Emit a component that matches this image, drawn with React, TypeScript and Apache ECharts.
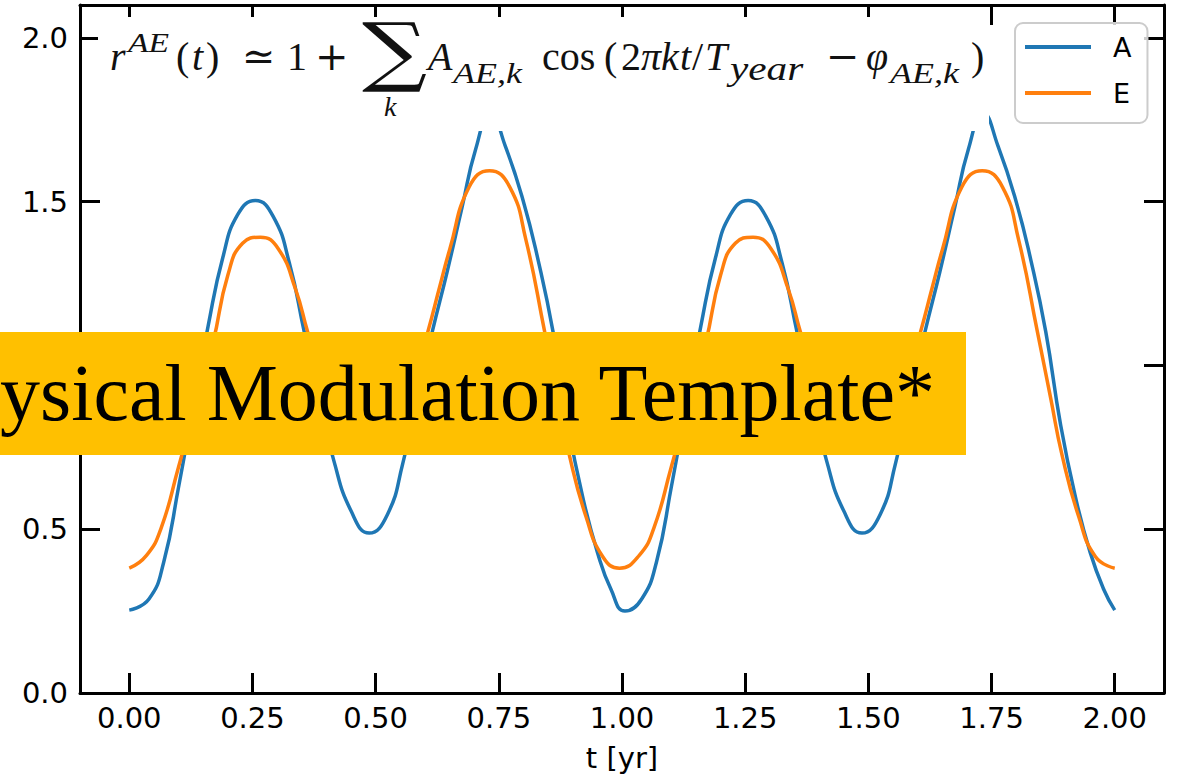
import React, { useEffect, useRef } from "react";
import * as echarts from "echarts";

// channel A (blue): sample times [yr] and values
const tA = [
  0, 0.04, 0.07, 0.1, 0.13, 0.16, 0.19, 0.22, 0.256, 0.292,
  0.325, 0.355, 0.385, 0.415, 0.45, 0.487, 0.524, 0.555, 0.585, 0.615,
  0.645, 0.675, 0.703, 0.733, 0.763, 0.799, 0.83, 0.86, 0.89, 0.92,
  0.95, 0.978,
  1.006, 1.04, 1.07, 1.1, 1.13, 1.16, 1.19, 1.22, 1.256, 1.292,
  1.325, 1.355, 1.385, 1.415, 1.45, 1.487, 1.524, 1.555, 1.585, 1.615,
  1.645, 1.675, 1.703, 1.733, 1.763, 1.799, 1.83, 1.86, 1.89, 1.92,
  1.95, 1.978, 2.0,
];
const seriesA = [
  0.253, 0.287, 0.4, 0.628, 0.875, 1.12, 1.33, 1.46, 1.503, 1.455,
  1.312, 1.103, 0.899, 0.71, 0.556, 0.488, 0.545, 0.7, 0.905, 1.103,
  1.285, 1.48, 1.66, 1.77, 1.67, 1.505, 1.32, 1.103, 0.82, 0.6,
  0.43, 0.315,
  0.25, 0.287, 0.4, 0.628, 0.875, 1.12, 1.33, 1.46, 1.503, 1.455,
  1.312, 1.103, 0.899, 0.71, 0.556, 0.488, 0.545, 0.7, 0.905, 1.103,
  1.285, 1.48, 1.66, 1.77, 1.67, 1.505, 1.32, 1.103, 0.82, 0.6,
  0.43, 0.315, 0.253,
];

// channel E (orange): sample times [yr] and values
const tE = [
  0, 0.035, 0.065, 0.1, 0.135, 0.17, 0.2, 0.23, 0.266, 0.302,
  0.338, 0.362, 0.39, 0.42, 0.45, 0.49, 0.53, 0.56, 0.585, 0.606,
  0.63, 0.65, 0.69, 0.731, 0.772, 0.805, 0.843, 0.87, 0.893, 0.927,
  0.961,
  0.995, 1.035, 1.065, 1.1, 1.135, 1.17, 1.2, 1.23, 1.266, 1.302,
  1.338, 1.362, 1.39, 1.42, 1.45, 1.49, 1.53, 1.56, 1.585, 1.606,
  1.63, 1.65, 1.69, 1.731, 1.772, 1.805, 1.843, 1.87, 1.893, 1.927,
  1.961, 2.0,
];
const seriesE = [
  0.381, 0.42, 0.505, 0.69, 0.88, 1.07, 1.275, 1.373, 1.391, 1.357,
  1.23, 1.103, 0.97, 0.86, 0.8, 0.785, 0.84, 0.91, 1.0, 1.103,
  1.24, 1.352, 1.545, 1.594, 1.545, 1.383, 1.103, 0.9, 0.727, 0.538,
  0.416,
  0.381, 0.42, 0.505, 0.69, 0.88, 1.07, 1.275, 1.373, 1.391, 1.357,
  1.23, 1.103, 0.97, 0.86, 0.8, 0.785, 0.84, 0.91, 1.0, 1.103,
  1.24, 1.352, 1.545, 1.594, 1.545, 1.383, 1.103, 0.9, 0.727, 0.538,
  0.416, 0.381,
];

const seriesNames = ["A", "E"];
const xTickValues = [0, 0.25, 0.5, 0.75, 1.0, 1.25, 1.5, 1.75, 2.0];
const yTickValues = [0, 0.5, 1.0, 1.5, 2.0];
const xAxisTitle = "t [yr]";
const bannerText = "Physical Modulation Template*";

const SERIF = '"Liberation Serif", "DejaVu Serif", serif';
const SYM = '"DejaVu Serif", serif';

// formula pieces: text, left x, baseline y, size, italic, font, horizontal stretch
const formulaPieces: [string, number, number, number, boolean, string, number][] = [
  ["r", 110, 70, 40, true, SERIF, 1],
  ["AE", 128, 52, 28, true, SERIF, 1.2],
  ["(", 176, 70, 40, false, SERIF, 1],
  ["t", 192, 70, 40, true, SERIF, 1],
  [")", 206, 70, 40, false, SERIF, 1],
  ["\u2243", 242, 70, 40, false, SYM, 1],
  ["1", 287, 70, 40, false, SERIF, 1],
  ["+", 315, 70, 40, false, SYM, 1],
  ["k", 384, 116, 28, true, SERIF, 1],
  ["A", 428, 70, 40, true, SERIF, 1],
  ["AE,k", 453, 83, 30, true, SERIF, 1.2],
  ["cos", 542, 70, 40, false, SERIF, 1],
  ["(", 604, 70, 40, false, SERIF, 1],
  ["2", 621, 70, 40, false, SERIF, 1],
  ["\u03c0", 641, 70, 40, true, SERIF, 1],
  ["k", 661, 70, 40, true, SERIF, 1],
  ["t", 680, 70, 40, true, SERIF, 1],
  ["/", 692, 70, 40, false, SERIF, 1],
  ["T", 705, 70, 40, true, SERIF, 1],
  ["year", 730, 80, 33, true, SERIF, 1.25],
  ["\u2212", 826, 70, 40, false, SYM, 1],
  ["\u03c6", 866, 70, 40, true, SERIF, 1],
  ["AE,k", 890, 83, 30, true, SERIF, 1.2],
  [")", 971, 70, 40, false, SERIF, 1],
];

export default function App() {
  const ref = useRef<HTMLDivElement>(null);

  useEffect(() => {
    if (!ref.current) return;
    const chart = echarts.init(ref.current, null, { renderer: "svg" });

    const dataA = tA.map((t, i) => [t, seriesA[i]]);
    const dataE = tE.map((t, i) => [t, seriesE[i]]);

    const formulaEls = formulaPieces.map(([text, x, base, size, it, fam, sx]) => ({
      type: "text",
      x,
      y: base - 0.34 * size,
      scaleX: sx,
      z: 51,
      style: {
        text,
        fontSize: size,
        fontFamily: fam,
        fontStyle: it ? "italic" : "normal",
        fill: "#111",
        align: "left",
        verticalAlign: "middle",
      },
    }));

    const tickLabelStyle = {
      fontSize: 29,
      fontFamily: '"DejaVu Sans", sans-serif',
      color: "#000",
    };

    const mirrorTick = (vals: number[]) => ({
      show: true,
      inside: true,
      length: 20,
      customValues: vals,
      lineStyle: { color: "#000", width: 3 },
    });
    const spine = { show: true, onZero: false, lineStyle: { color: "#000", width: 3 } };

    const option: any = {
      animation: false,
      backgroundColor: "#ffffff",
      grid: { left: 80, right: 20, top: 5, bottom: 87, containLabel: false },
      legend: {
        data: seriesNames,
        orient: "vertical",
        left: 1015,
        top: 23,
        icon: "rect",
        itemWidth: 66,
        itemHeight: 4,
        itemGap: 16,
        padding: [9, 16, 15, 10],
        backgroundColor: "rgba(255,255,255,0.8)",
        borderColor: "#cccccc",
        borderWidth: 2,
        borderRadius: 8,
        selectedMode: false,
        z: 20,
        textStyle: {
          fontSize: 27,
          lineHeight: 30,
          fontFamily: '"DejaVu Sans", sans-serif',
          color: "#000",
          padding: [0, 0, 0, 17],
        },
      },
      xAxis: [
        {
          type: "value",
          min: -0.1,
          max: 2.1,
          position: "bottom",
          name: xAxisTitle,
          nameLocation: "middle",
          nameGap: 50,
          nameTextStyle: tickLabelStyle,
          axisLine: spine,
          axisTick: mirrorTick(xTickValues),
          axisLabel: {
            show: true,
            margin: 10,
            customValues: xTickValues,
            formatter: (v: number) => v.toFixed(2),
            ...tickLabelStyle,
          },
          splitLine: { show: false },
        },
        {
          type: "value",
          min: -0.1,
          max: 2.1,
          position: "top",
          axisLine: spine,
          axisTick: mirrorTick(xTickValues),
          axisLabel: { show: false },
          splitLine: { show: false },
        },
      ],
      yAxis: [
        {
          type: "value",
          min: 0,
          max: 2.1,
          position: "left",
          axisLine: spine,
          axisTick: mirrorTick(yTickValues),
          axisLabel: {
            show: true,
            margin: 12,
            customValues: yTickValues,
            formatter: (v: number) => v.toFixed(1),
            ...tickLabelStyle,
          },
          splitLine: { show: false },
        },
        {
          type: "value",
          min: 0,
          max: 2.1,
          position: "right",
          axisLine: spine,
          axisTick: mirrorTick(yTickValues),
          axisLabel: { show: false },
          splitLine: { show: false },
        },
      ],
      series: [
        {
          name: seriesNames[0],
          type: "line",
          xAxisIndex: 0,
          yAxisIndex: 0,
          data: dataA,
          showSymbol: false,
          symbol: "none",
          smooth: 0.5,
          color: "#1f77b4",
          lineStyle: { color: "#1f77b4", width: 3.5 },
          z: 2,
        },
        {
          name: seriesNames[1],
          type: "line",
          xAxisIndex: 0,
          yAxisIndex: 0,
          data: dataE,
          showSymbol: false,
          symbol: "none",
          smooth: 0.5,
          color: "#ff7f0e",
          lineStyle: { color: "#ff7f0e", width: 3.5 },
          z: 3,
        },
      ],
      graphic: [
        {
          type: "rect",
          z: 50,
          shape: { x: 98, y: 17, width: 891, height: 114 },
          style: { fill: "#ffffff" },
        },
        {
          type: "text",
          x: 362,
          y: 51,
          scaleX: 1.2,
          z: 51,
          style: {
            text: "\u2211",
            fontSize: 76,
            fontFamily: SYM,
            fill: "#111",
            align: "left",
            verticalAlign: "middle",
          },
        },
        ...formulaEls,
        {
          type: "rect",
          z: 60,
          shape: { x: -20, y: 332, width: 986, height: 123 },
          style: { fill: "#FFC000" },
        },
        {
          type: "text",
          x: 935,
          y: 420 - 0.34 * 80,
          z: 61,
          style: {
            text: bannerText,
            fontSize: 80,
            fontFamily: SERIF,
            fill: "#000",
            align: "right",
            verticalAlign: "middle",
          },
        },
      ],
    };

    chart.setOption(option);
    return () => chart.dispose();
  }, []);

  return (
    <div
      ref={ref}
      style={{ position: "fixed", left: 0, top: 0, width: 1184, height: 780, background: "#fff" }}
    />
  );
}
